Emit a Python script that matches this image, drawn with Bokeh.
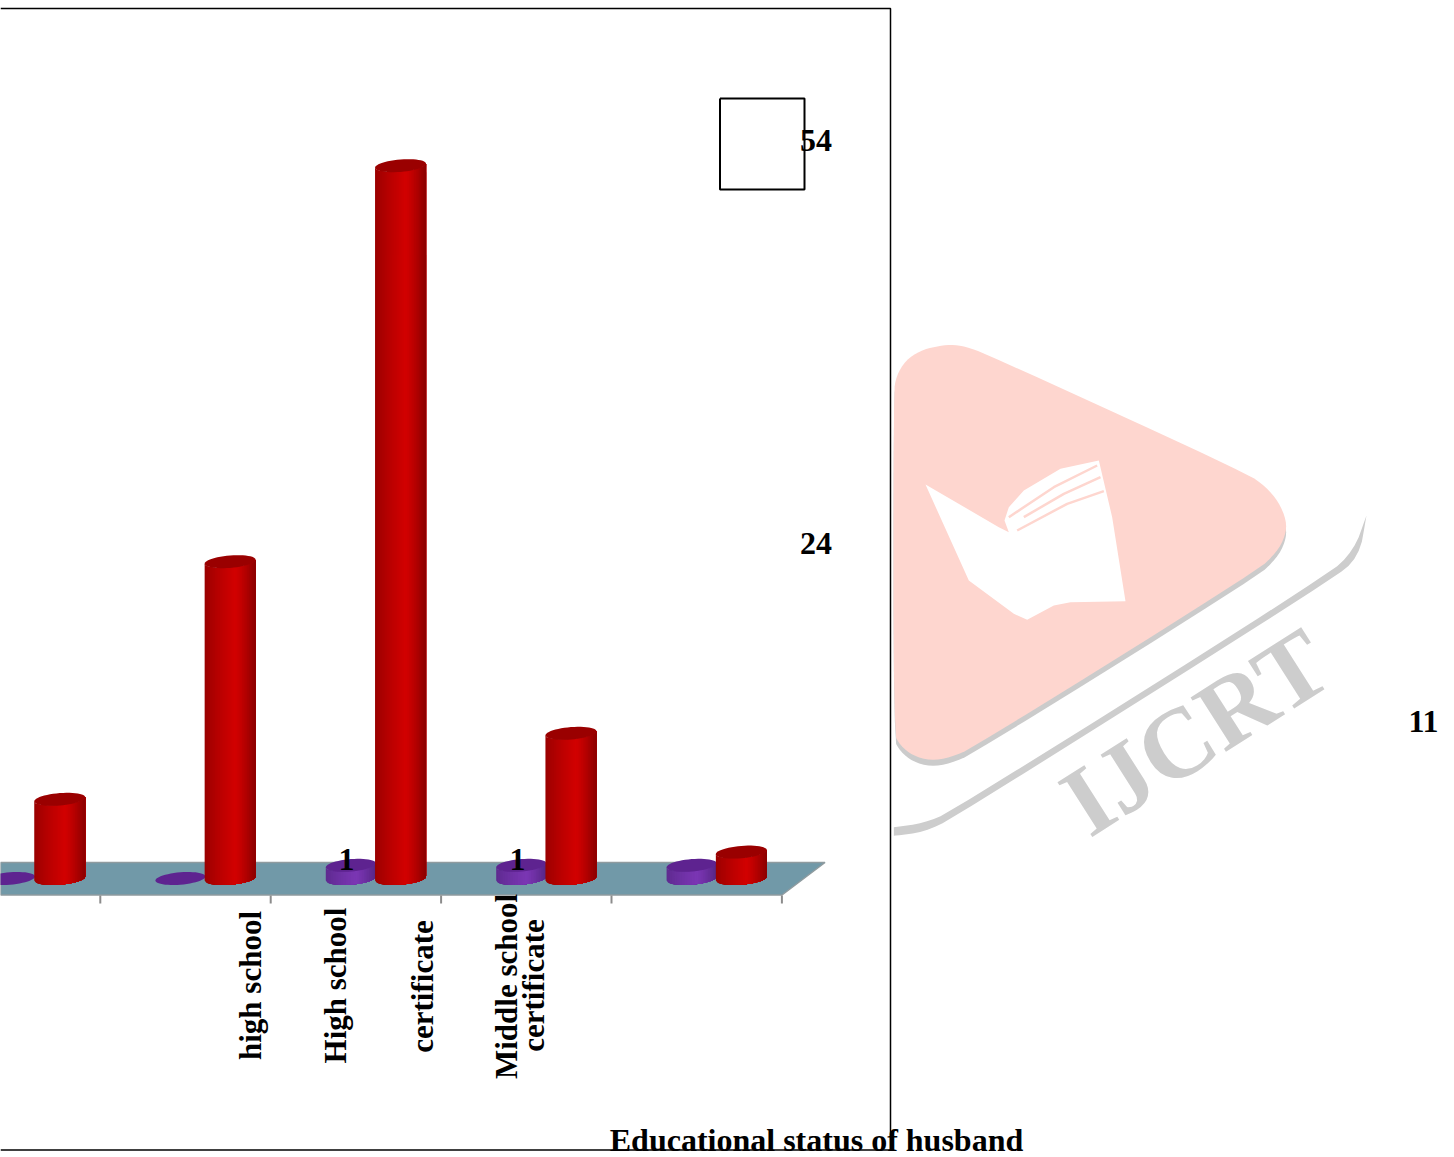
import math
from bokeh.plotting import figure
from bokeh.models import Range1d
from bokeh.core.properties import value
from bokeh.embed import file_html
from bokeh.resources import INLINE

# Chart data: wife's count (purple) and husband's count (red) for each education group
group_index = [0, 1, 2, 3, 4]
purple_values = [0, 0, 1, 1, 1]
red_values = [6, 24, 54, 11, 2]
tick_boundaries = [0.5, 1.5, 2.5, 3.5, 4.5]

axis_title = "Educational status of husband"
category_lines = ["high school", "High school", "certificate", "Middle school", "certificate"]
red_callouts = ["54", "24", "11"]
purple_callouts = ["1", "1"]

W, H = 1454, 1157
PX_PER_CAT, CAT0_PX = 170.4, 14.6
PX_PER_VAL, BASE_PX = 13.2, 878.0

p = figure(width=W, height=H, output_backend="svg", toolbar_location=None,
           x_axis_type=None, y_axis_type=None, min_border=0,
           x_range=Range1d(-CAT0_PX / PX_PER_CAT, (W - CAT0_PX) / PX_PER_CAT),
           y_range=Range1d((BASE_PX - H) / PX_PER_VAL, BASE_PX / PX_PER_VAL))
p.extra_x_ranges["px"] = Range1d(0, W)
p.extra_y_ranges["px"] = Range1d(H, 0)
p.outline_line_color = None
p.grid.visible = False
p.background_fill_color = "white"
p.border_fill_color = "white"

PX = dict(x_range_name="px", y_range_name="px")
SERIF = value("Liberation Serif")


def chaikin(xs, ys, closed=True, rounds=2):
    """Corner-cutting smoothing of a polyline."""
    for _ in range(rounds):
        nx, ny = ([], []) if closed else ([xs[0]], [ys[0]])
        n = len(xs)
        for i in range(n if closed else n - 1):
            j = (i + 1) % n
            nx += [0.75 * xs[i] + 0.25 * xs[j], 0.25 * xs[i] + 0.75 * xs[j]]
            ny += [0.75 * ys[i] + 0.25 * ys[j], 0.25 * ys[i] + 0.75 * ys[j]]
        if not closed:
            nx.append(xs[-1])
            ny.append(ys[-1])
        xs, ys = nx, ny
    return xs, ys


def zx(v):
    return [880 + a / 3 for a in v]


def zy(v):
    return [330 + a / 3 for a in v]


# Watermark emblem: rounded triangle with a soft grey edge below it
emblem_x = [893, 896, 905, 920, 935, 950, 965, 985, 1247, 1265, 1278, 1286, 1285, 1276, 1257,
            973, 950, 930, 912, 900, 893]
emblem_y = [392, 375, 360, 350, 346, 344, 346, 353, 473, 486, 501, 520, 535, 552, 570,
            747, 757, 760, 755, 745, 733]
ox, oy = chaikin(emblem_x, emblem_y)
ox = [max(x, 893) for x in ox]
p.patch(ox, [y + 6 for y in oy], fill_color="#cbcbcb", line_color=None, **PX)
p.patch(ox, oy, fill_color="#fed6cf", line_color=None, **PX)

# Swoosh under the emblem, tapering towards its upper end
top_x, top_y = chaikin(zx([40, 130, 210, 1340, 1420, 1458]), zy([1490, 1478, 1445, 735, 660, 555]), closed=False)
low_x, low_y = chaikin(zx([1458, 1436, 1350, 220, 130, 40]), zy([555, 680, 750, 1462, 1505, 1516]), closed=False)
p.patch(top_x + low_x, top_y + low_y, fill_color="#cdcdcd", line_color=None, **PX)

book_x = [135, 355, 385, 372, 385, 430, 540, 655, 695, 735, 570, 520, 440, 400, 265]
book_y = [462, 590, 605, 570, 530, 480, 415, 390, 560, 812, 815, 825, 868, 850, 750]
p.patch(zx(book_x), zy(book_y), fill_color="white", line_color=None, **PX)
p.multi_line([zx([385, 520, 650]), zx([430, 550, 660]), zx([410, 560, 670])],
             [zy([560, 470, 405]), zy([560, 490, 440]), zy([600, 520, 482])],
             line_color="#fed6cf", line_width=2.5, **PX)

p.text([1071], [810], text=["IJCRT"], text_font=SERIF, text_font_style="bold",
       text_font_size="99px", text_color="#cdcdcd", angle=math.radians(32.5),
       text_align="left", text_baseline="alphabetic", **PX)

# Chart frame: top, right and bottom edges
p.line([0, 890, 890], [8, 8, 1150], line_color="black", line_width=1.5, **PX)
p.line([0, 893], [1149.5, 1149.5], line_color="black", line_width=1.5, **PX)

# Empty legend box
p.line([719.5, 804, 804, 719.5, 719.5], [98, 98, 189, 189, 98], line_color="black", line_width=2, **PX)

# Floor of the 3D plot
p.patch([0, 781.5, 824.5, 0], [894.5, 894.5, 862, 862], fill_color="#7199a8", line_color="#8f9b9f",
        line_width=1.5, **PX)

# Tick marks under the floor
tick_y_top, tick_y_bot = (BASE_PX - 895) / PX_PER_VAL, (BASE_PX - 903) / PX_PER_VAL
p.segment(tick_boundaries, [tick_y_top] * 5, tick_boundaries, [tick_y_bot] * 5,
          line_color="#8c8c8c", line_width=2)


def lerp_hex(c0, c1, t):
    return "#%02x%02x%02x" % tuple(round(a + (b - a) * t) for a, b in zip(c0, c1))


def cylinder(cat, val, edge_l, mid, edge_r, cap_color, half_px=25.5, minor_px=6.2, strips=30):
    """Shaded upright cylinder on the floor; each band paints over the rest of the body on its right."""
    a = half_px / PX_PER_CAT
    b = minor_px / PX_PER_VAL
    tilt = 2.0 / PX_PER_VAL

    def lower(u):
        return -b * math.sqrt(max(0.0, 1 - u * u)) + tilt * u

    if val > 0:
        for i in range(strips):
            u0 = -1 + 2 * i / strips
            pos = (i + 0.5) / strips
            if pos < 0.6:
                col = lerp_hex(edge_l, mid, (pos / 0.6) ** 0.8)
            else:
                col = lerp_hex(mid, edge_r, ((pos - 0.6) / 0.4) ** 1.2)
            us = [u0 + (1 - u0) * k / 40 for k in range(41)]
            xs = [cat + a * u for u in us]
            top = [val + lower(u) for u in us]
            bot = [lower(u) for u in us]
            p.patch(xs + xs[::-1], top + bot[::-1], fill_color=col, line_color=None)

    # Top cap
    ts = [2 * math.pi * k / 48 for k in range(49)]
    cx = [cat + a * math.cos(t) for t in ts]
    cy = [val + b * math.sin(t) + tilt * math.cos(t) for t in ts]
    p.patch(cx, cy, fill_color=cap_color, line_color=None)


RED = ((0x98, 0, 0), (0xd2, 0, 0), (0x8a, 0, 0), "#9a0000")
PURPLE = ((0x5d, 0x2a, 0x8e), (0x7b, 0x36, 0xb4), (0x56, 0x26, 0x85), "#5e2390")

for g, v in zip(group_index, purple_values):
    cylinder(g - 0.03, v, *PURPLE, half_px=25)
for g, v in zip(group_index, red_values):
    cylinder(g + 0.262, v, *RED)

# Value callouts
bold = dict(text_font=SERIF, text_font_style="bold", text_color="black")
p.text([815.5, 815.5, 1423], [139.5, 543, 721], text=red_callouts, text_font_size="32px",
       text_align="center", text_baseline="middle", **bold, **PX)
p.text([346, 517], [859, 859], text=purple_callouts, text_font_size="32px",
       text_align="center", text_baseline="middle", **bold, **PX)

# Category labels, running upwards
p.text([250, 335, 422, 506, 533], [985, 985, 986, 986, 985], text=category_lines,
       angle=math.pi / 2, text_font_size="31px", text_align="center", text_baseline="middle",
       **bold, **PX)

p.text([816], [1139], text=[axis_title], text_font_size="32px", text_align="center",
       text_baseline="middle", **bold, **PX)

open("out.html", "w").write(file_html(p, INLINE))
